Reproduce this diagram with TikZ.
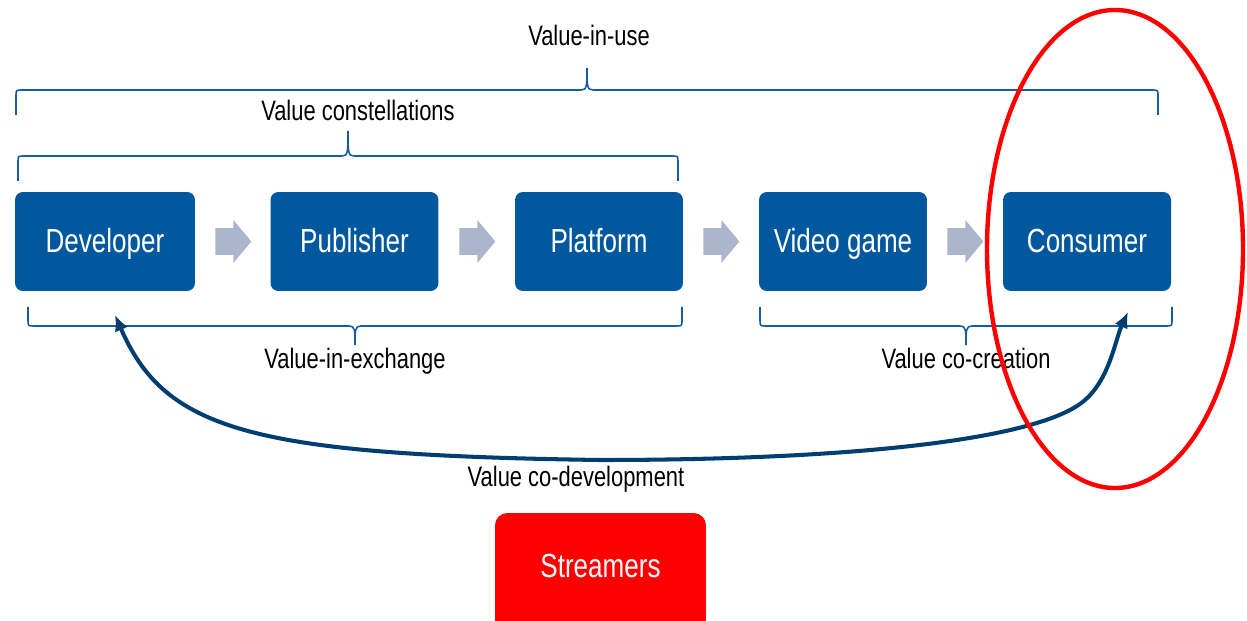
\documentclass[tikz,border=0pt]{standalone}
\usepackage{fontspec}
\setmainfont[FakeStretch=0.78]{Liberation Sans}
\usetikzlibrary{arrows.meta,shapes.arrows}
\definecolor{boxblue}{RGB}{2,88,158}
\definecolor{brcblue}{RGB}{22,92,162}
\definecolor{navy}{RGB}{0,61,112}
\definecolor{greyarr}{RGB}{171,181,204}
\begin{document}
\begin{tikzpicture}[x=.02cm,y=-.02cm,
 box/.style={fill=boxblue,text=white,rounded corners=4.5pt,minimum width=3.36cm,
  minimum height=1.98cm,inner sep=0pt,text height=13.6pt,text depth=1.6pt,
  font=\fontsize{19}{22}\selectfont},
 gar/.style={single arrow,fill=greyarr,minimum height=.72cm,inner xsep=0pt,inner ysep=.26cm,
  single arrow head extend=.16cm,single arrow tip angle=100,anchor=tail},
 brc/.style={draw=brcblue,line width=.9pt},
 lab/.style={font=\fontsize{16}{19}\selectfont,inner sep=0pt,text height=11.5pt,text depth=1.3pt}]
\useasboundingbox (0,0) rectangle (1247,621);
% the chain of actors
\node[box,minimum width=3.6cm] (dev) at (105,241.5) {Developer};
\node[box] (pub) at (354.5,241.5) {Publisher};
\node[box] (pla) at (599,241.5) {Platform};
\node[box] (vid) at (843,241.5) {Video game};
\node[box] (con) at (1087,241.5) {Consumer};
\node[gar] (g1) at (215,241.5) {};
\node[gar] (g2) at (459,241.5) {};
\node[gar] (g3) at (703,241.5) {};
\node[gar] (g4) at (947,241.5) {};
% braces above
\draw[brc] (16,115) -- (16,96) .. controls (16,90) .. (22,90) -- (581,90)
 .. controls (587,90) and (587,86) .. (587,68) .. controls (587,86) and (587,90) .. (593,90)
 -- (1152,90) .. controls (1158,90) .. (1158,96) -- (1158,115);
\node[lab] (viu) at (589,37) {Value-in-use};
\draw[brc] (18,181) -- (18,162) .. controls (18,156) .. (24,156) -- (342,156)
 .. controls (348,156) and (348,152) .. (348,131) .. controls (348,152) and (348,156) .. (354,156)
 -- (672,156) .. controls (678,156) .. (678,162) -- (678,181);
\node[lab] (vcs) at (358,112) {Value constellations};
% braces below
\draw[brc] (28,307) -- (28,320) .. controls (28,326) .. (34,326) -- (349,326)
 .. controls (355,326) and (355,330) .. (355,345) .. controls (355,330) and (355,326) .. (361,326)
 -- (676,326) .. controls (682,326) .. (682,320) -- (682,307);
\node[lab] (vie) at (355,360) {Value-in-exchange};
\draw[brc] (760,307) -- (760,320) .. controls (760,326) .. (766,326) -- (960,326)
 .. controls (966,326) and (966,330) .. (966,345) .. controls (966,330) and (966,326) .. (972,326)
 -- (1166,326) .. controls (1172,326) .. (1172,320) -- (1172,307);
\node[lab] (vcc) at (966,360) {Value co-creation};
% co-development loop
\coordinate (tl) at (115,315);
\coordinate (tr) at (1128,312);
\draw[navy,line width=2.3pt,{Latex[length=9pt,width=8pt]}-{Latex[length=9pt,width=8pt]}]
 (tl) .. controls (165,430) and (250,455) .. (600,460)
 .. controls (850,460) and (1040,440) .. (1085,400)
 .. controls (1110,378) and (1115,340) .. (tr);
\node[lab] (vcd) at (576,478) {Value co-development};
\node[fill=red,text=white,rounded corners=7pt,minimum width=4.22cm,minimum height=2.4cm,
 text height=13.6pt,text depth=9pt,font=\fontsize{19}{22}\selectfont] (str) at (600.5,573) {Streamers};
\draw[red,line width=2.5pt] (1115,249) ellipse [x radius=128,y radius=239];
\end{tikzpicture}
\end{document}
